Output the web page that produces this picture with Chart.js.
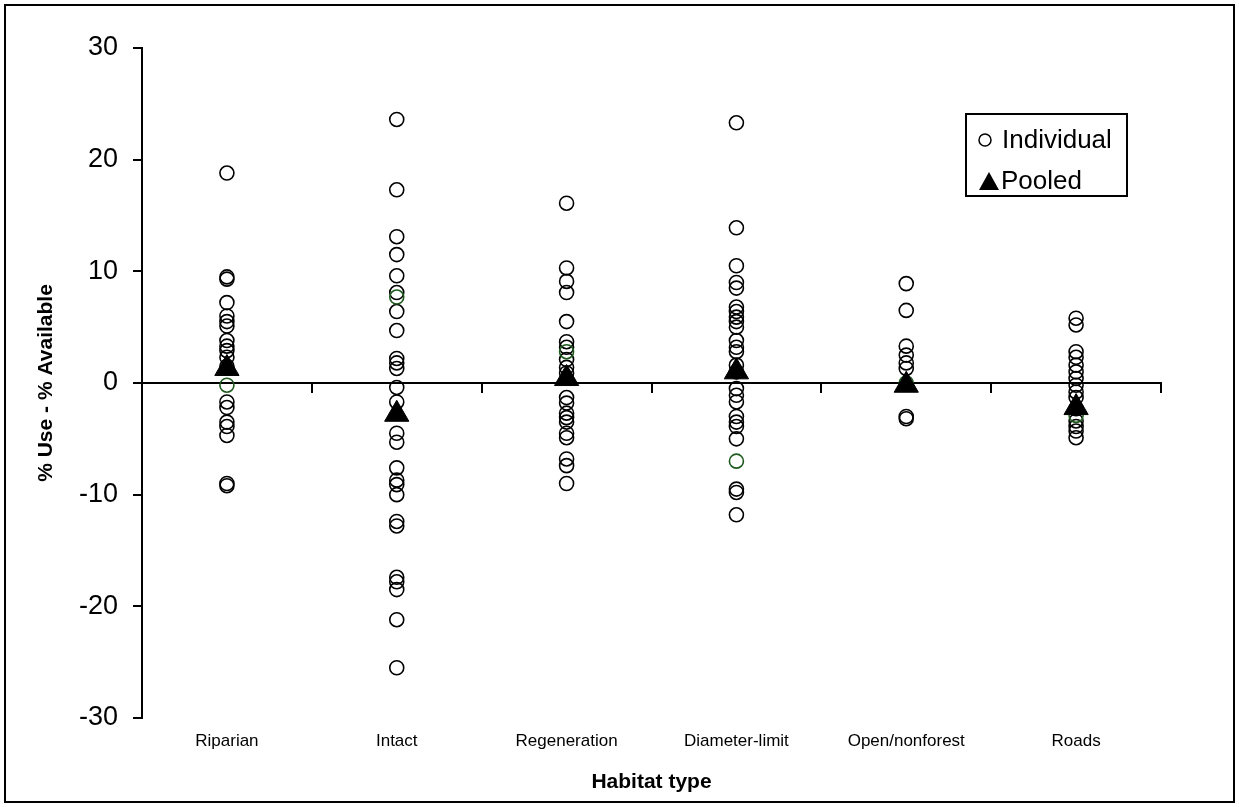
<!DOCTYPE html>
<html>
<head>
<meta charset="utf-8">
<script src="https://cdn.jsdelivr.net/npm/chart.js@4/dist/chart.umd.min.js"></script>
<style>
  body { margin: 0; background: #fff; }
  #wrap { width: 1239px; height: 807px; }
</style>
</head>
<body>
<div id="wrap"><canvas id="plot"></canvas></div>
<script>
// habitat types along the x axis
var habitats = ["Riparian", "Intact", "Regeneration", "Diameter-limit", "Open/nonforest", "Roads"];
var yTicks = [-30, -20, -10, 0, 10, 20, 30];

// individual animals, % use - % available, one list per habitat
var riparianVals = [18.8, 9.5, 9.3, 7.2, 6.0, 5.5, 5.1, 3.8, 3.3, 2.9, 2.3, 1.5, -1.7, -2.2, -3.5, -3.9, -4.7, -9.0, -9.2];
var intactVals = [23.6, 17.3, 13.1, 11.5, 9.6, 8.1, 6.4, 4.7, 2.2, 1.8, 1.3, -0.4, -1.7, -4.5, -5.3, -7.6, -8.7, -9.1, -10.0, -12.4, -12.8, -17.4, -17.8, -18.5, -21.2, -25.5];
var regenVals = [16.1, 10.3, 9.1, 8.1, 5.5, 3.7, 3.2, 2.1, 1.4, 0.9, -1.3, -1.8, -2.7, -3.1, -3.5, -4.5, -4.9, -6.8, -7.4, -9.0];
var diameterVals = [23.3, 13.9, 10.5, 9.0, 8.5, 6.8, 6.4, 5.9, 5.5, 5.0, 3.8, 3.2, 2.8, 1.6, 1.0, -0.5, -1.1, -1.7, -3.0, -3.5, -3.9, -5.0, -9.5, -9.8, -11.8];
var openVals = [8.9, 6.5, 3.3, 2.5, 1.8, 1.3, -3.0, -3.2];
var roadsVals = [5.8, 5.2, 2.8, 2.3, 1.6, 1.0, 0.4, -0.2, -0.8, -1.3, -2.3, -3.4, -3.9, -4.3, -4.9];
// the odd dark green circles, one per habitat
var greenVals = [-0.2, 7.7, 2.8, -7.0, 0.0, -2.9];
// pooled estimate per habitat
var pooledVals = [1.3, -2.8, 0.4, 1.0, -0.2, -2.2];

var individualLists = [riparianVals, intactVals, regenVals, diameterVals, openVals, roadsVals];

var individualPts = [];
individualLists.forEach(function(list, i) {
    list.forEach(function(v) { individualPts.push({x: habitats[i], y: v}); });
});
var greenPts = greenVals.map(function(v, i) { return {x: habitats[i], y: v}; });
var pooledPts = pooledVals.map(function(v, i) { return {x: habitats[i], y: v}; });

var FONT = "Arial, 'Liberation Sans', sans-serif";

// outer frame + legend box drawn on the canvas
var framePlugin = {
    id: "frame",
    afterDraw: function(chart) {
        var ctx = chart.ctx;
        ctx.save();
        ctx.strokeStyle = "#000";
        ctx.lineWidth = 2;
        ctx.strokeRect(5, 5, 1229, 797);

        // legend
        ctx.strokeRect(966, 114, 161, 82);
        ctx.lineWidth = 1.5;
        ctx.beginPath();
        ctx.arc(985, 140, 6, 0, Math.PI * 2);
        ctx.stroke();
        ctx.fillStyle = "#000";
        ctx.beginPath();
        ctx.moveTo(989, 172);
        ctx.lineTo(999, 190);
        ctx.lineTo(979, 190);
        ctx.closePath();
        ctx.fill();
        ctx.font = "26px " + FONT;
        ctx.textBaseline = "middle";
        ctx.fillText(chart.data.datasets[0].label, 1002, 141);
        ctx.fillText(chart.data.datasets[2].label, 1001, 182);
        ctx.restore();
    }
};

var ctx = document.getElementById("plot").getContext("2d");
var chart = new Chart(ctx, {
    type: "scatter",
    data: {
        labels: habitats,
        datasets: [{
            label: "Individual",
            data: individualPts,
            pointStyle: "circle",
            pointRadius: 7,
            pointBorderWidth: 1.6,
            borderColor: "#000",
            backgroundColor: "rgba(255,255,255,0)",
            order: 3
        }, {
            label: "green",
            data: greenPts,
            pointStyle: "circle",
            pointRadius: 7,
            pointBorderWidth: 1.6,
            borderColor: "#1e5a1e",
            backgroundColor: "rgba(255,255,255,0)",
            order: 2
        }, {
            label: "Pooled",
            data: pooledPts,
            pointStyle: "triangle",
            pointRadius: 14,
            pointBorderWidth: 1,
            borderColor: "#000",
            backgroundColor: "#000",
            order: 1
        }]
    },
    options: {
        responsive: true,
        maintainAspectRatio: false,
        animation: false,
        layout: { padding: { top: 48, right: 78, left: 0, bottom: 0 } },
        plugins: {
            legend: { display: false },
            tooltip: { enabled: false }
        },
        scales: {
            x: {
                type: "category",
                labels: habitats,
                offset: true,
                position: "bottom",
                grid: { display: false, drawTicks: false },
                border: { display: false },
                ticks: { color: "#000", font: { family: FONT, size: 17 }, padding: 13, maxRotation: 0, autoSkip: false },
                title: { display: true, text: "Habitat type", color: "#000", font: { family: FONT, size: 21, weight: "bold" }, padding: { bottom: 12, top: 0 } },
                afterFit: function(s) { s.height = 89; }
            },
            x2: {
                type: "category",
                labels: habitats,
                offset: true,
                position: { y: 0 },
                grid: { offset: true, drawOnChartArea: false, drawTicks: true, tickLength: 9, color: "#000", lineWidth: 2 },
                border: { display: true, color: "#000", width: 2 },
                ticks: { display: false }
            },
            y: {
                min: -30,
                max: 30,
                afterBuildTicks: function(s) { s.ticks = yTicks.map(function(v) { return {value: v}; }); },
                grid: { drawOnChartArea: false, drawTicks: true, tickLength: 9, color: "#000", lineWidth: 2 },
                border: { display: true, color: "#000", width: 2 },
                ticks: { color: "#000", font: { family: FONT, size: 27 }, padding: 15 },
                title: { display: true, text: "% Use - % Available", color: "#000", font: { family: FONT, size: 21, weight: "bold" }, padding: { top: 34, bottom: 0 } },
                afterFit: function(s) { s.width = 142; }
            }
        }
    },
    plugins: [framePlugin]
});
</script>
</body>
</html>
